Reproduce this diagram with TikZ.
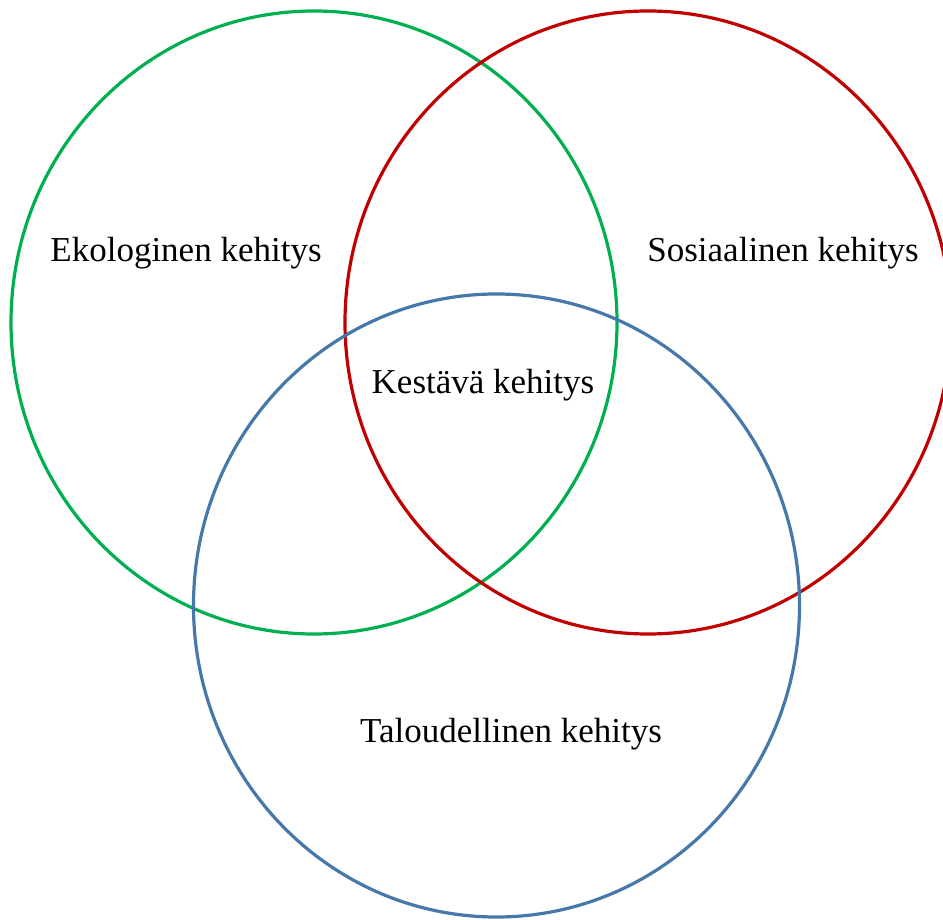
\documentclass[tikz,border=0pt]{standalone}
\usepackage{fontspec}
\setmainfont{Liberation Serif}
\definecolor{cgreen}{RGB}{0,176,80}
\definecolor{cred}{RGB}{192,0,0}
\definecolor{cblue}{RGB}{70,120,170}
\begin{document}
\begin{tikzpicture}[x=1pt,y=-1pt,
  ring/.style={line width=3.2pt},
  lbl/.style={anchor=base,inner sep=0pt,font=\fontsize{35}{42}\selectfont}]
\useasboundingbox (0,0) rectangle (943,920);
\fill[white] (0,0) rectangle (943,920);
\begin{scope}
\clip (0,0) rectangle (943,920);
\draw[ring,cgreen] (314,322.5) ellipse [x radius=303pt,y radius=311.5pt];
\draw[ring,cred] (648,322.5) ellipse [x radius=303pt,y radius=311.5pt];
\draw[ring,cblue] (496.5,605.5) ellipse [x radius=303pt,y radius=311.5pt];
\end{scope}
\node[lbl] (eko) at (186,262) {Ekologinen kehitys};
\node[lbl] (sos) at (783,262) {Sosiaalinen kehitys};
\node[lbl] (kes) at (483,393) {Kestävä kehitys};
\node[lbl] (tal) at (511,742) {Taloudellinen kehitys};
\end{tikzpicture}
\end{document}
